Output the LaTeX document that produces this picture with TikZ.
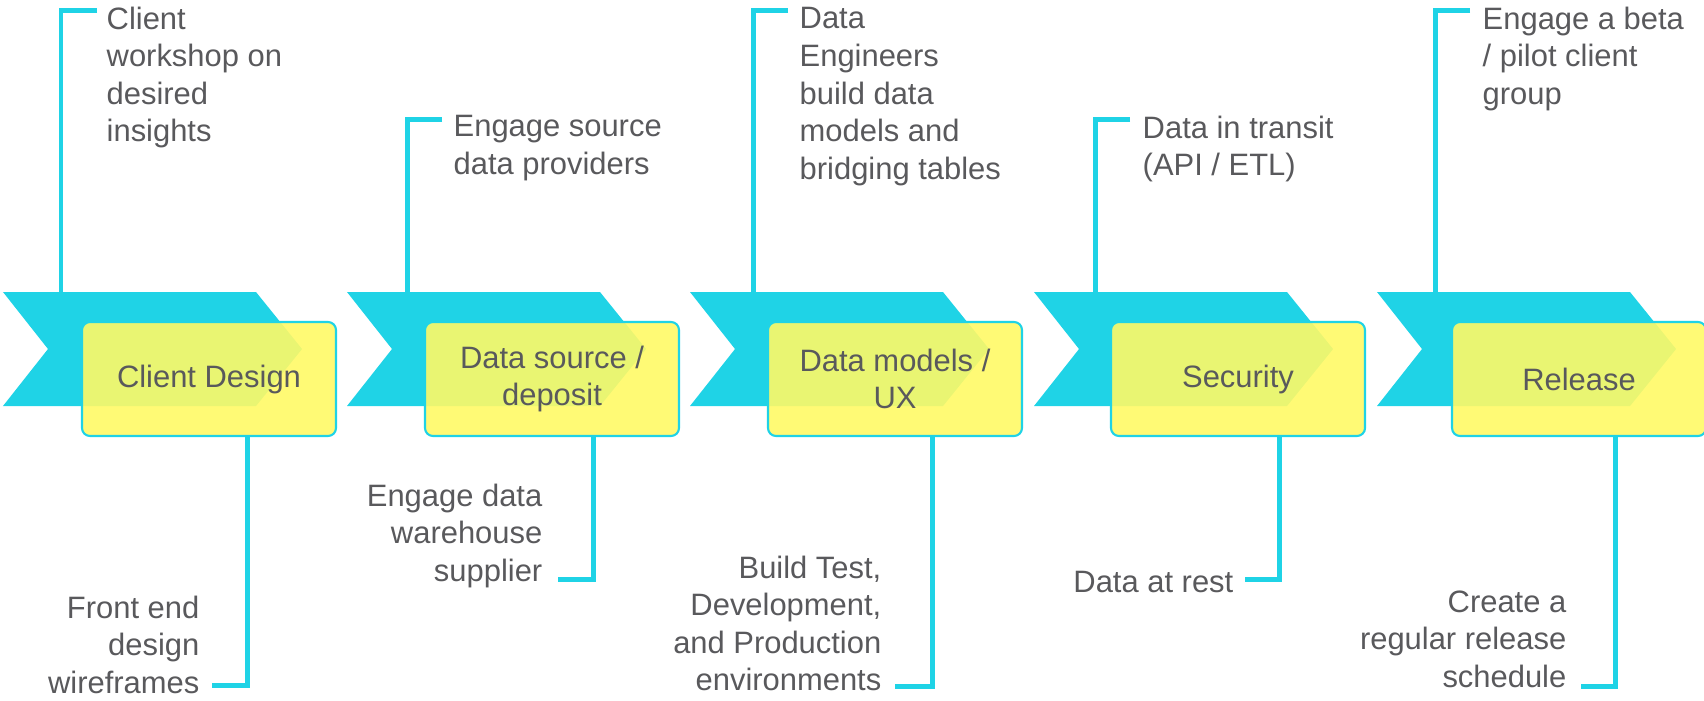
\documentclass[tikz,border=0pt]{standalone}
\usepackage{fontspec}
\setmainfont{Liberation Sans}
\definecolor{stagecyan}{HTML}{1FD3E6}
\definecolor{stageyellow}{HTML}{FFF966}
\definecolor{notegray}{HTML}{59595C}
\begin{document}
\begin{tikzpicture}
        \tikzstyle{every node}=[font=\fontsize{8.8}{10.7}\selectfont, text=notegray, inner sep=0pt]
        \tikzstyle{chevron}=[fill=stagecyan]
        \tikzstyle{stagebox}=[draw=stagecyan, line width=0.6pt, fill=stageyellow, fill opacity=0.9, text opacity=1, rounded corners=0.08cm, minimum width=2.54cm, minimum height=1.14cm, align=center]
        \tikzstyle{topnote}=[anchor=north west, align=left]
        \tikzstyle{botnote}=[anchor=north east, align=right]
        \tikzstyle{leader}=[draw=stagecyan, line width=1.42pt]
        \useasboundingbox (0,0) rectangle (17.04,7);
        % chevrons
        \fill[chevron] (0.03,4.08) -- (2.56,4.08) -- (3.02,3.51) -- (2.56,2.94) -- (0.03,2.94) -- (0.48,3.51) -- cycle;
        \fill[chevron] (3.47,4.08) -- (6.00,4.08) -- (6.46,3.51) -- (6.00,2.94) -- (3.47,2.94) -- (3.92,3.51) -- cycle;
        \fill[chevron] (6.90,4.08) -- (9.43,4.08) -- (9.89,3.51) -- (9.43,2.94) -- (6.90,2.94) -- (7.35,3.51) -- cycle;
        \fill[chevron] (10.34,4.08) -- (12.87,4.08) -- (13.33,3.51) -- (12.87,2.94) -- (10.34,2.94) -- (10.79,3.51) -- cycle;
        \fill[chevron] (13.77,4.08) -- (16.30,4.08) -- (16.76,3.51) -- (16.30,2.94) -- (13.77,2.94) -- (14.22,3.51) -- cycle;
        \coordinate (ch1) at (0.61,4.08);
        \coordinate (ch2) at (4.07,4.08);
        \coordinate (ch3) at (7.53,4.08);
        \coordinate (ch4) at (10.95,4.08);
        \coordinate (ch5) at (14.35,4.08);
        % stage boxes
        \node[stagebox] (box1) at (2.09,3.21) {Client Design};
        \node[stagebox] (box2) at (5.52,3.21) {Data source /\\deposit};
        \node[stagebox] (box3) at (8.95,3.21) {Data models /\\UX};
        \node[stagebox] (box4) at (12.38,3.21) {Security};
        \node[stagebox] (box5) at (15.79,3.21) {Release};
        % notes above
        \node[topnote] (top1) at (1.06,6.94) {Client\\workshop on\\desired\\insights};
        \node[topnote] (top2) at (4.53,5.85) {Engage source\\data providers};
        \node[topnote] (top3) at (7.99,6.93) {Data\\Engineers\\build data\\models and\\bridging tables};
        \node[topnote] (top4) at (11.42,5.85) {Data in transit\\(API / ETL)};
        \node[topnote] (top5) at (14.82,6.94) {Engage a beta\\/ pilot client\\group};
        \coordinate (arm1) at (0.97,6.90);
        \coordinate (arm2) at (4.42,5.81);
        \coordinate (arm3) at (7.88,6.90);
        \coordinate (arm4) at (11.30,5.81);
        \coordinate (arm5) at (14.70,6.90);
        \draw[leader] (arm1) -| (ch1);
        \draw[leader] (arm2) -| (ch2);
        \draw[leader] (arm3) -| (ch3);
        \draw[leader] (arm4) -| (ch4);
        \draw[leader] (arm5) -| (ch5);
        % notes below
        \node[botnote] (bot1) at (2.00,1.05) {Front end\\design\\wireframes};
        \node[botnote] (bot2) at (5.43,2.17) {Engage data\\warehouse\\supplier};
        \node[botnote] (bot3) at (8.82,1.45) {Build Test,\\Development,\\and Production\\environments};
        \node[botnote] (bot4) at (12.34,1.30) {Data at rest};
        \node[botnote] (bot5) at (15.67,1.10) {Create a\\regular release\\schedule};
        \coordinate (foot1) at (2.12,0.15);
        \coordinate (foot2) at (5.58,1.21);
        \coordinate (foot3) at (8.95,0.14);
        \coordinate (foot4) at (12.45,1.21);
        \coordinate (foot5) at (15.81,0.14);
        \draw[leader] (foot1) -| ([xshift=0.38cm]box1.south);
        \draw[leader] (foot2) -| ([xshift=0.41cm]box2.south);
        \draw[leader] (foot3) -| ([xshift=0.37cm]box3.south);
        \draw[leader] (foot4) -| ([xshift=0.41cm]box4.south);
        \draw[leader] (foot5) -| ([xshift=0.36cm]box5.south);
    \end{tikzpicture}
\end{document}
